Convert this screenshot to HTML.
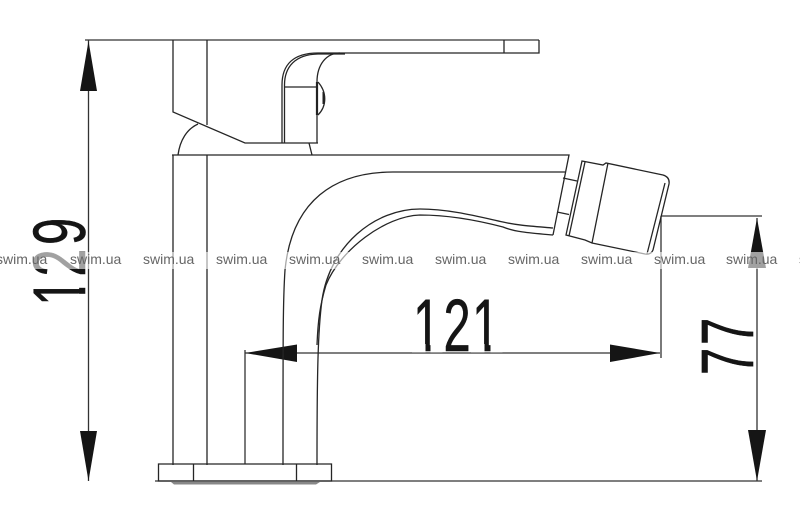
<!DOCTYPE html>
<html>
<head>
<meta charset="utf-8">
<style>
html,body{margin:0;padding:0;background:#fff;width:800px;height:523px;overflow:hidden}
svg{display:block}
.l{fill:none;stroke:#252525;stroke-width:1.3}
.d{fill:none;stroke:#333;stroke-width:1.3}
.n{font-family:"Liberation Sans",sans-serif;font-size:74px;fill:#151515;stroke:#151515;stroke-width:.6}
.w{font-family:"Liberation Sans",sans-serif;font-size:14px;fill:#666}
</style>
</head>
<body>
<svg width="800" height="523" viewBox="0 0 800 523" xmlns="http://www.w3.org/2000/svg">
<rect width="800" height="523" fill="#fff"/>

<!-- dimension lines -->
<path class="d" d="M85 40H539M88.5 40V481M155 481H762M661 216H762M661 216V358M757 218V481M245 350V464M245 353H660"/>

<!-- arrowheads -->
<g fill="#151515">
<path d="M88.500 41L97 91H80Z"/>
<path d="M88.500 481L97 431H80Z"/>
<path d="M757 218L766 268H748Z"/>
<path d="M757 481L766 430H748Z"/>
<path d="M245 353L297 344.500V362Z"/>
<path d="M660 353L610 344.500V362Z"/>
</g>

<!-- lever -->
<path class="l" d="M173 40V112L245 143H318M207 40V125"/>
<path class="l" d="M504 40V53M539 40V53H340C326 53 317 65 317 82V143"/>
<path class="l" d="M282 143V85C282 65 293 53 318 53H340"/>
<path class="l" d="M284.500 143V85C284.500 67 295 54.500 318 54H345"/>
<path class="l" d="M284 87H317"/>
<path d="M317 82V115" stroke="#222" stroke-width="2.2" fill="none"/>
<path class="l" d="M318 82C327 92 327 106 318 115"/>
<path d="M323.500 92V104" stroke="#222" stroke-width="2" fill="none"/>

<!-- body top -->
<path class="l" d="M178 155C180 140 187 129 198 124M309 143L312 155"/>
<path class="l" d="M172 155H569L553 235M173 155V465M207 155V465"/>

<!-- spout -->
<path class="l" d="M565 172H393C335 172 292 200 285 270C283 300 283 330 283 465"/>
<path class="l" d="M553 228C530 226 515 225 503 222C480 217 450 209 420 209C375 209 330 245 322 300C318 330 317 370 317 465"/>
<path class="l" d="M553 235C530 233 515 232 503 227C480 221 450 215 420 215C385 216 340 250 326 285C320 305 318 320 317 345"/>

<!-- nozzle -->
<path class="l" d="M563 178L577 181M557 212L569 214.500"/>
<path class="l" d="M582 161L603 165L606 163L663 175Q670 177 669 184L653 250Q651 255 645 254L592 243L585 240L566 235Z"/>
<path class="l" d="M585 162L569 236M608 163L592 243M665 183L647 254"/>

<!-- base -->
<path class="l" d="M158.500 464H331.500V481H158.500ZM193.500 464V481M296.500 464V481"/>
<path d="M171 482L174 484.500H316L320 482Z" fill="#888"/>

<!-- dimension text -->
<text class="n" transform="translate(85 305.700) rotate(-90) scale(.66 1)">1</text>
<text class="n" transform="translate(85 276.500) rotate(-90) scale(.66 1)">2</text>
<text class="n" transform="translate(85 245) rotate(-90) scale(.66 1)">9</text>
<rect x="78" y="293.800" width="9" height="12" fill="#fff"/>
<rect x="78" y="277" width="9" height="10.800" fill="#fff"/>

<text class="n" transform="translate(413 351) scale(.66 1)">1</text>
<text class="n" transform="translate(443.500 351) scale(.66 1)">2</text>
<text class="n" transform="translate(472 351) scale(.66 1)">1</text>
<rect x="412" y="344" width="13.500" height="8.500" fill="#fff"/>
<rect x="430.500" y="344" width="12" height="8.500" fill="#fff"/>
<rect x="471" y="344" width="13.500" height="8.500" fill="#fff"/>
<rect x="490.500" y="344" width="12" height="8.500" fill="#fff"/>

<text class="n" transform="translate(753 375) rotate(-90) scale(.66 1)">7</text>
<text class="n" transform="translate(753 345) rotate(-90) scale(.66 1)">7</text>

<!-- watermark -->
<rect x="0" y="252" width="800" height="17" fill="#fff" fill-opacity=".6"/>
<g class="w">
<text x="-4" y="264">swim.ua</text>
<text x="70" y="264">swim.ua</text>
<text x="143" y="264">swim.ua</text>
<text x="216" y="264">swim.ua</text>
<text x="289" y="264">swim.ua</text>
<text x="362" y="264">swim.ua</text>
<text x="435" y="264">swim.ua</text>
<text x="508" y="264">swim.ua</text>
<text x="581" y="264">swim.ua</text>
<text x="654" y="264">swim.ua</text>
<text x="726" y="264">swim.ua</text>
<text x="799" y="264">swim.ua</text>
</g>
</svg>
</body>
</html>
